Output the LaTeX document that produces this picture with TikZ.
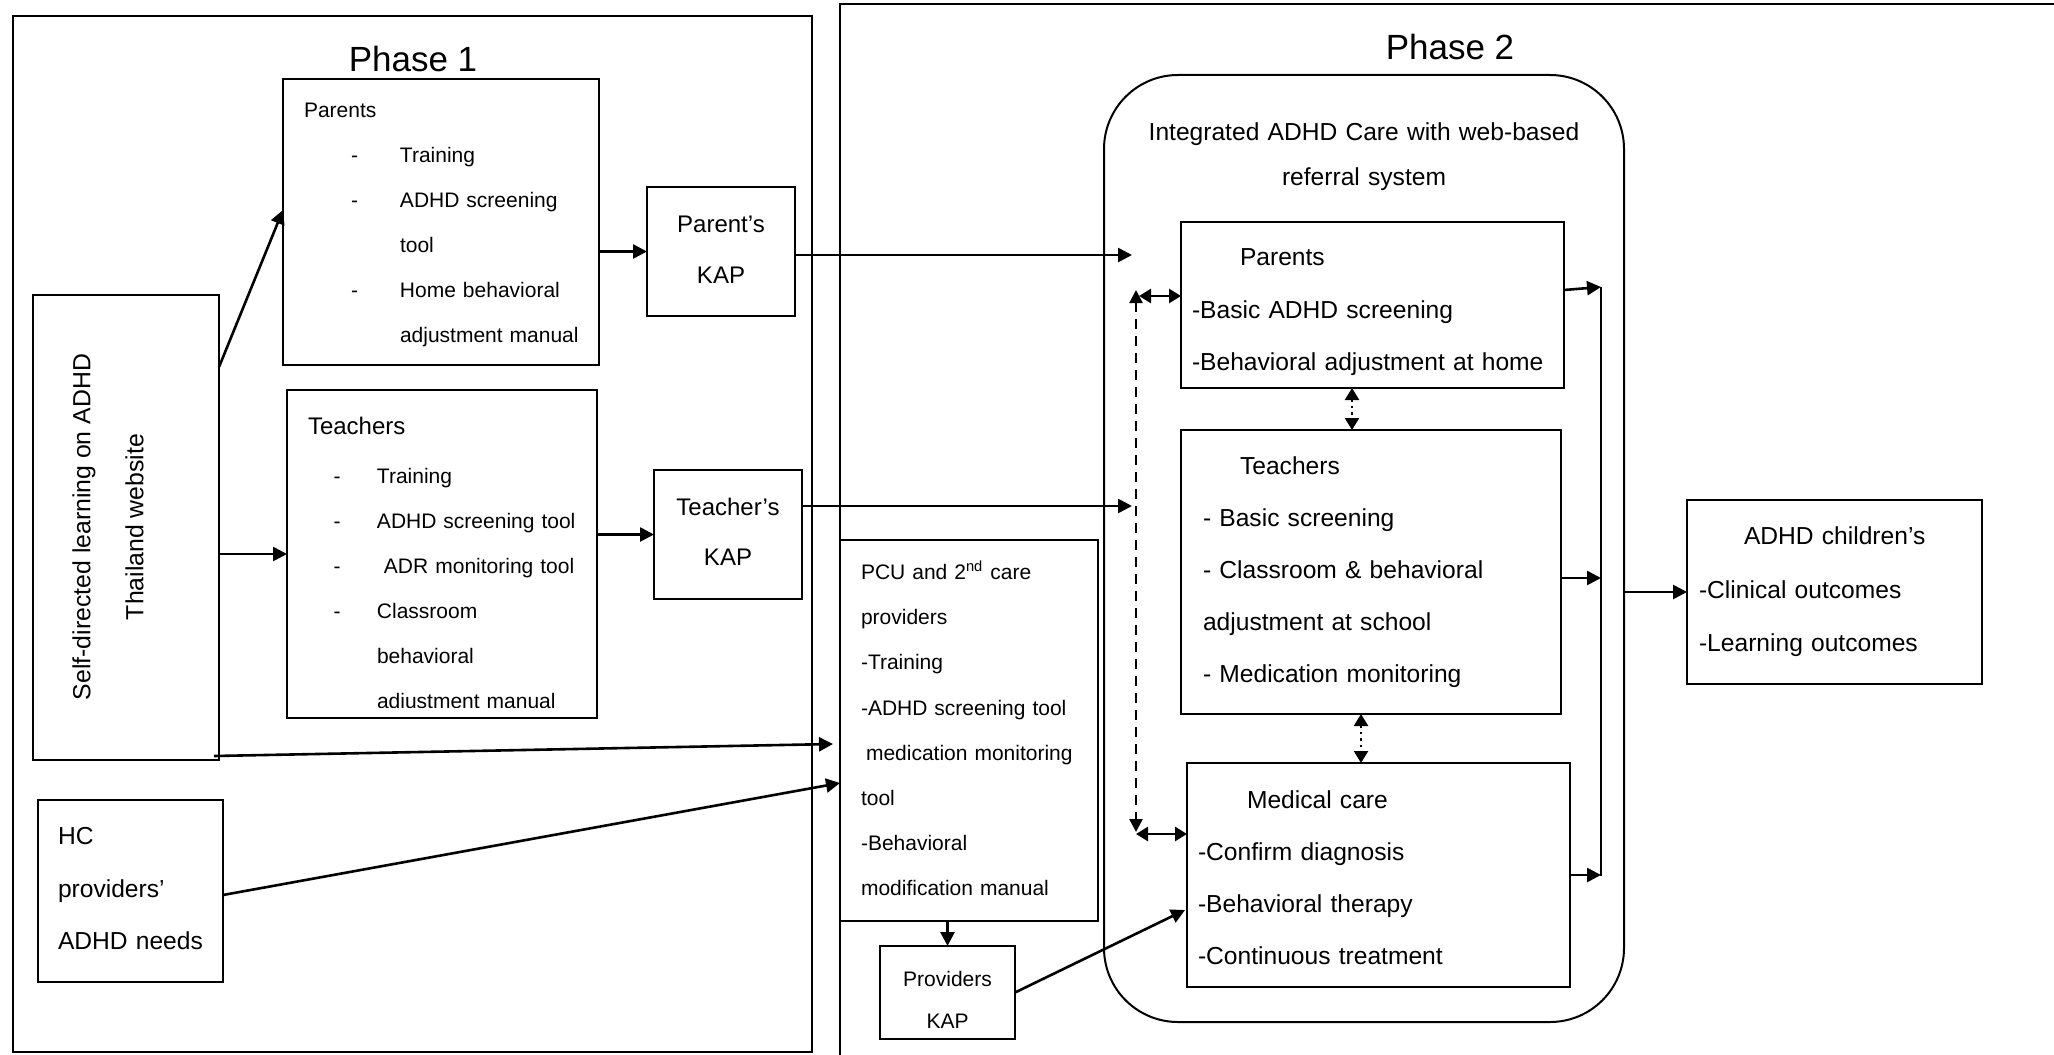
\documentclass[tikz,border=0pt]{standalone}
\usepackage{fontspec}
\setmainfont{Liberation Sans}
\usetikzlibrary{arrows.meta,fit}
\newcommand\setfs[2]{\fontsize{#1}{#2}\selectfont}

\begin{document}
\begin{tikzpicture}[x=0.5pt,y=-0.5pt,
  box/.style={draw, line width=1pt, inner sep=0pt, outer sep=0pt},
  frame/.style={draw, line width=1.2pt, inner sep=0pt, outer sep=0pt},
  arr/.style={line width=1.3pt, -{Triangle[length=7pt,width=7pt]}},
  twoway/.style={line width=1.4pt, {Triangle[length=6pt,width=7pt]}-{Triangle[length=6pt,width=7pt]}},
  dasharr/.style={line width=1.2pt, dash pattern=on 5pt off 3.5pt,
    {Triangle[length=6.5pt,width=6.5pt]}-{Triangle[length=6.5pt,width=6.5pt]}},
  dotarr/.style={line width=1.2pt, dotted,
    {Triangle[length=6pt,width=7pt]}-{Triangle[length=6pt,width=7pt]}},
  lines/.style={inner sep=0pt, outer sep=0pt, anchor=base west, align=left, text width=260pt},
  centred/.style={inner sep=0pt, outer sep=0pt, anchor=base, align=center, text width=#1},
]
\useasboundingbox (0,0) rectangle (2054,1054);
\fill[white] (0,0) rectangle (2054,1054);
\clip (0,0) rectangle (2054,1054);

% ---------- phase frames ----------
\node[frame, fit={(13,16)(812,1052)}] (ph1) {};
\node[frame, fit={(840,4)(2090,1090)}] (ph2) {};
\node[anchor=base, inner sep=0pt, font=\setfs{17.5}{21}] (ph1t) at (413,71.4) {Phase 1};
\node[anchor=base, inner sep=0pt, font=\setfs{17.5}{21}] (ph2t) at (1450,59.4) {Phase 2};

% ---------- phase 1 boxes ----------
\node[box, fit={(283,79)(599,365)}] (pp) {};
\node[box, fit={(647,187)(795,316)}] (pkap) {};
\node[box, fit={(33,295)(219,760)}] (self) {};
\node[box, fit={(287,390)(597,718)}] (tp) {};
\node[box, fit={(654,470)(802,599)}] (tkap) {};
\node[box, fit={(38,800)(223,982)}] (hc) {};

% ---------- phase 2 boxes ----------
\node[box, fit={(840,540)(1098,921)}] (pcu) {};
\node[box, fit={(880,946)(1015,1039)}] (prkap) {};
\node[box, rounded corners=37pt, fit={(1104,75)(1624,1022)}] (integ) {};
\node[box, fit={(1181,222)(1564,388)}] (pp2) {};
\node[box, fit={(1181,430)(1561,714)}] (tp2) {};
\node[box, fit={(1187,763)(1570,987)}] (med) {};
\node[box, fit={(1687,500)(1982,684)}] (kids) {};

% ---------- texts ----------
\node[lines, font=\setfs{10.5}{22.5}] (ppT) at (304,117.5) {Parents\\
  \hspace*{23.5pt}\makebox[24.5pt][l]{-}Training\\
  \hspace*{23.5pt}\makebox[24.5pt][l]{-}ADHD screening\\
  \hspace*{48pt}tool\\
  \hspace*{23.5pt}\makebox[24.5pt][l]{-}Home behavioral\\
  \hspace*{48pt}adjustment manual};

\node[lines, font=\setfs{12}{20}] (tpH) at (308,434.6) {Teachers};
\begin{scope}
  \clip (287,390) rectangle (597,707);
  \node[lines, font=\setfs{10.5}{22.5}] (tpT) at (333.5,483.5) {%
    \makebox[21.75pt][l]{-}Training\\
    \makebox[21.75pt][l]{-}ADHD screening tool\\
    \makebox[21.75pt][l]{-}\hspace{3.5pt}ADR monitoring tool\\
    \makebox[21.75pt][l]{-}Classroom\\
    \hspace*{21.75pt}behavioral\\
    \hspace*{21.75pt}adjustment manual};
\end{scope}

\node[centred=140pt, font=\setfs{12}{25.5}] (pkapT) at (721,232.6) {Parent’s\\KAP};
\node[centred=140pt, font=\setfs{12}{25}] (tkapT) at (728,515.6) {Teacher’s\\KAP};

\node[rotate=90, align=center, inner sep=0pt, font=\setfs{12.4}{26.5}] (selfT) at (108,527)
  {Self-directed learning on ADHD\\Thailand website};

\node[lines, font=\setfs{12.3}{26.2}] (hcT) at (58,844.8) {HC\\providers’\\ADHD needs};

\node[lines, font=\setfs{10.5}{22.6}] (pcuT) at (861,579.5) {PCU and 2\textsuperscript{nd} care\\
  providers\\-Training\\-ADHD screening tool\\\hspace*{2.5pt}medication monitoring\\
  tool\\-Behavioral\\modification manual};
\node[centred=120pt, font=\setfs{10.5}{21}] (prkapT) at (947.5,986.5) {Providers\\KAP};

\node[centred=300pt, font=\setfs{12.3}{22.5}] (integT) at (1364,140.8)
  {Integrated ADHD Care with web-based\\referral system};

\node[lines, font=\setfs{12.3}{26.2}] (pp2T) at (1192,265.8)
  {\hspace*{24pt}Parents\\-Basic ADHD screening\\-Behavioral adjustment at home};
\node[lines, font=\setfs{12.3}{25.9}] (tp2T) at (1203,474.8)
  {\hspace*{18.5pt}Teachers\\- Basic screening\\- Classroom \& behavioral\\
   adjustment at school\\- Medication monitoring};
\node[lines, font=\setfs{12.3}{26}] (medT) at (1198,808.8)
  {\hspace*{24.5pt}Medical care\\-Confirm diagnosis\\-Behavioral therapy\\-Continuous treatment};
\node[lines, font=\setfs{12.3}{26.7}] (kidsT) at (1699,544.8)
  {\hspace*{22.5pt}ADHD children’s\\-Clinical outcomes\\-Learning outcomes};

% ---------- connectors, phase 1 ----------
\draw[arr] ([yshift=-36pt]self.north east) -- ([yshift=6pt]pp.west);
\draw[arr] (pp.east |- pkap.west) -- (pkap.west);
\draw[arr] (self.east |- tp.west) -- (tp.west);
\draw[arr] (tp.east |- tkap.west) -- (tkap.west);
\draw[arr] ([shift={(-2.5pt,2pt)}]self.south east) -- ([shift={(-3.5pt,-6.75pt)}]pcu.west);
\draw[arr] ([yshift=-2pt]hc.east) -- ([yshift=-26.25pt]pcu.west);

% ---------- connectors into phase 2 ----------
\coordinate (pin) at (1132,255);
\coordinate (tin) at (1132,506);
\draw[arr] (pkap.east |- pin) -- (pin);
\draw[arr] (tkap.east |- tin) -- (tin);
\draw[arr] (prkap.north |- pcu.south) -- (prkap.north);
\draw[arr] (prkap.east) -- ([shift={(-1pt,-17.5pt)}]med.west);

% referral links inside the integrated care block
\coordinate (hubA) at (1136,290);
\coordinate (hubB) at (1136,832);
\draw[dasharr] (hubA) -- (hubB);
\draw[twoway] ([shift={(1.5pt,-3pt)}]hubA) -- ([yshift=-3pt]hubA -| pp2.west);
\draw[twoway] ([yshift=-1pt]hubB) -- ([yshift=-1pt]hubB -| med.west);
\draw[dotarr] ([xshift=-10.25pt]pp2.south) -- ([xshift=-10.25pt]pp2.south |- tp2.north);
\draw[dotarr] ([xshift=-5pt]tp2.south) -- ([xshift=-5pt]tp2.south |- med.north);

% outcome bus
\coordinate (busT) at (1601,287);
\coordinate (busB) at (1601,876);
\draw[line width=1pt] (busT) -- (busB);
\draw[arr] ([yshift=7.5pt]pp2.east) -- (busT);
\draw[arr] ([yshift=-3pt]tp2.east) -- ([yshift=-3pt]tp2.east -| busT);
\draw[arr] (med.east) -- (med.east -| busT);
\draw[arr] (integ.east |- kids.west) -- (kids.west);
\end{tikzpicture}
\end{document}
